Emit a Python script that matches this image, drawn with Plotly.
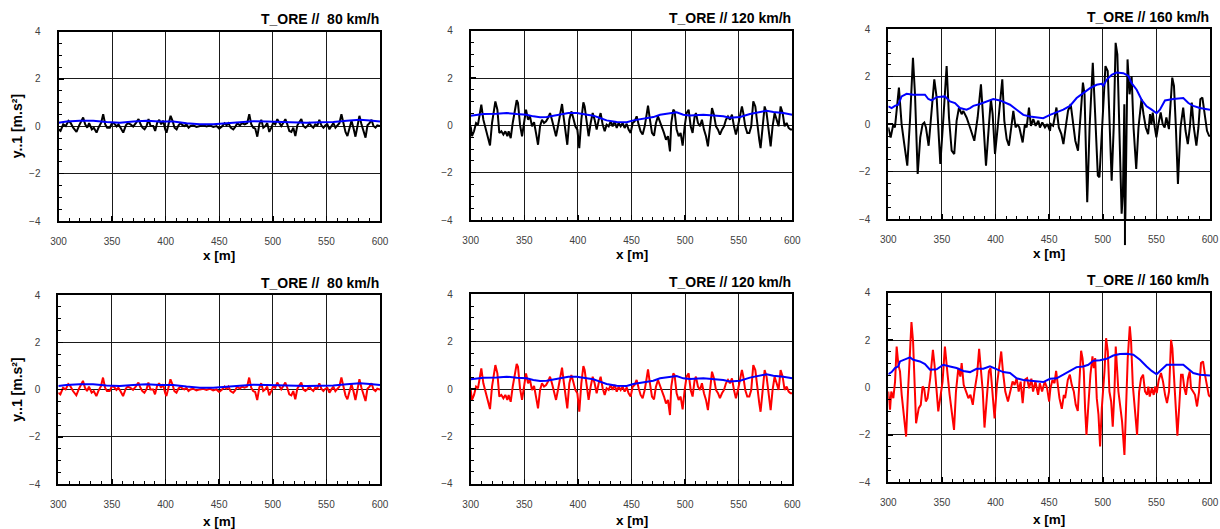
import plotly.graph_objects as go

# ---------------- data ----------------
x80 = [300.0, 301.9, 304.4, 306.8, 309.3, 311.2, 313.7, 316.8, 319.3, 323.0,
       324.9, 326.8, 328.6, 331.1, 333.0, 335.5, 337.3, 339.8, 341.7, 343.6,
       345.4, 347.9, 349.8, 351.7, 354.2, 356.0, 357.9, 360.4, 362.9, 364.7,
       367.2, 369.7, 372.2, 374.7, 376.6, 378.4, 380.3, 382.2, 384.0, 385.9,
       388.4, 390.2, 392.1, 394.0, 395.8, 397.7, 399.6, 400.8, 402.7, 404.6,
       406.4, 408.3, 410.2, 412.0, 413.9, 415.8, 417.6, 419.5, 421.4, 423.2,
       425.7, 428.8, 432.0, 435.1, 438.2, 441.3, 444.4, 447.5, 450.0, 452.5,
       455.0, 456.8, 458.7, 460.6, 463.1, 464.9, 466.8, 469.3, 471.2, 473.7,
       476.1, 478.0, 479.9, 481.7, 483.6, 485.5, 487.4, 489.2, 491.1, 493.0,
       494.8, 496.7, 498.6, 500.4, 502.3, 504.2, 506.1, 507.9, 509.8, 511.7,
       513.5, 515.4, 517.3, 519.1, 521.0, 522.9, 524.8, 526.6, 528.5, 530.4,
       532.2, 534.1, 536.0, 537.8, 539.6, 541.6, 543.4, 545.3, 547.2, 549.1,
       550.9, 552.8, 554.7, 556.5, 558.4, 560.3, 562.1, 564.0, 565.9, 567.8,
       569.6, 571.5, 573.4, 575.2, 577.1, 579.0, 580.8, 582.7, 584.6, 586.5,
       588.3, 590.2, 592.1, 593.9, 595.8, 597.5, 600.0]
y80 = [-0.13, -0.20, 0.08, 0.01, 0.23, 0.15, -0.06, -0.24, 0.04, 0.37,
       0.08, -0.06, 0.13, -0.13, -0.06, -0.27, -0.06, 0.15, 0.51, 0.08,
       -0.06, -0.06, 0.13, 0.13, -0.01, 0.08, -0.06, -0.27, 0.04, 0.13,
       0.08, -0.01, 0.13, 0.30, 0.08, -0.06, -0.13, 0.01, 0.30, 0.01,
       0.01, -0.20, 0.15, 0.27, 0.08, 0.23, -0.13, -0.27, 0.08, 0.44,
       0.23, -0.06, -0.13, 0.04, 0.13, 0.04, 0.01, 0.08, -0.06, 0.01,
       0.04, -0.03, 0.01, 0.04, -0.01, 0.04, -0.03, 0.01, -0.10, -0.01,
       0.13, 0.04, 0.13, -0.06, -0.13, -0.03, 0.13, 0.04, 0.13, 0.08,
       0.13, 0.51, 0.08, -0.06, -0.10, -0.44, 0.08, 0.27, -0.06, 0.01,
       0.13, -0.24, -0.06, 0.15, 0.08, 0.30, 0.15, 0.01, 0.15, 0.30,
       0.08, -0.20, -0.24, -0.06, -0.41, 0.04, 0.18, 0.30, 0.01, -0.06,
       0.01, 0.13, 0.01, -0.06, 0.08, 0.04, 0.27, 0.04, -0.06, 0.04,
       0.08, -0.13, 0.01, 0.13, -0.06, 0.04, 0.13, 0.51, 0.08, -0.24,
       -0.41, -0.06, 0.23, -0.06, -0.44, 0.01, 0.44, 0.08, -0.20, -0.48,
       0.04, 0.13, 0.27, 0.01, -0.06, 0.04, 0.01]
env80_x = [300, 307.5, 319.9, 332.4, 344.8, 357.3, 369.7, 382.2, 394.6, 407.1,
           419.5, 431.9, 444.4, 456.8, 469.3, 481.7, 494.2, 506.6, 519.1, 531.5,
           544.0, 556.4, 568.9, 581.3, 590.6, 600]
env80_y = [0.15, 0.20, 0.23, 0.23, 0.18, 0.15, 0.20, 0.23, 0.20, 0.20,
           0.13, 0.08, 0.08, 0.13, 0.18, 0.21, 0.20, 0.18, 0.18, 0.15,
           0.17, 0.18, 0.23, 0.27, 0.24, 0.20]

x120 = [300.0, 301.2, 303.1, 305.0, 306.8, 308.7, 309.9, 311.8, 313.7, 315.5,
        318.0, 319.9, 321.8, 323.0, 324.9, 326.7, 328.6, 330.5, 332.3, 334.2,
        335.4, 337.3, 339.2, 341.0, 342.9, 344.1, 346.0, 347.9, 349.7, 351.6,
        353.5, 355.3, 357.2, 359.1, 360.9, 362.8, 364.7, 366.5, 368.4, 370.3,
        372.1, 374.0, 375.8, 377.7, 379.6, 381.4, 383.3, 385.2, 387.0, 388.9,
        390.1, 392.0, 393.9, 395.7, 397.6, 399.5, 401.3, 403.2, 405.1, 406.3,
        408.2, 410.0, 411.9, 413.8, 415.6, 417.5, 419.4, 421.2, 423.1, 425.0,
        426.8, 428.7, 430.6, 432.4, 434.3, 436.2, 438.0, 439.9, 441.7, 443.6,
        445.5, 447.3, 449.2, 451.1, 452.9, 454.8, 456.7, 458.5, 460.4, 462.3,
        464.1, 465.4, 467.2, 469.1, 471.0, 472.8, 474.7, 476.6, 478.4, 480.3,
        482.2, 484.0, 485.9, 487.1, 489.0, 490.2, 492.1, 494.0, 495.8, 497.7,
        499.6, 501.4, 503.3, 505.2, 507.0, 508.9, 510.1, 512.0, 513.9, 515.7,
        517.6, 519.5, 521.3, 523.2, 525.1, 526.9, 528.8, 530.7, 532.5, 534.4,
        536.3, 538.1, 540.0, 541.8, 543.7, 545.6, 547.4, 549.3, 551.2, 553.0,
        554.3, 556.1, 558.0, 559.9, 561.7, 563.6, 565.5, 567.3, 569.2, 570.4,
        572.3, 574.2, 576.0, 577.9, 579.8, 581.6, 583.5, 585.4, 587.2, 589.1,
        591.0, 592.8, 594.7, 596.6, 598.4, 600.0]
y120 = [-0.04, -0.46, -0.25, 0.10, 0.03, 0.45, 0.87, 0.24, -0.11, -0.46,
        -0.85, 0.10, 0.66, 1.01, 0.66, -0.32, -0.25, -0.39, -0.25, -0.46,
        -0.25, -0.54, 0.10, 0.52, 1.06, 0.94, 0.03, -0.46, 0.10, 0.66,
        0.24, 0.38, -0.04, 0.13, -0.32, -0.82, -0.04, 0.24, 0.10, 0.17,
        0.31, 0.52, 0.24, -0.18, -0.46, -0.04, 0.45, 0.90, 0.24, -0.32,
        -0.82, 0.24, 0.59, 0.31, -0.04, -0.18, -0.96, 0.24, 0.97, 0.80,
        0.10, -0.46, 0.10, 0.52, 0.24, -0.18, 0.24, 0.52, 0.03, -0.25,
        0.03, -0.04, 0.17, -0.04, 0.17, -0.11, 0.10, -0.04, 0.10, -0.11,
        0.07, -0.18, -0.32, 0.10, 0.17, 0.38, 0.03, -0.25, -0.39, -0.04,
        0.45, 0.83, 0.24, -0.32, -0.44, 0.10, 0.38, 0.17, -0.04, -0.32,
        -0.61, -0.46, -1.10, 0.10, 0.66, 0.59, -0.18, -0.46, -0.32, -0.86,
        -0.04, 0.52, 0.66, -0.04, -0.32, 0.38, 0.52, 0.10, -0.04, 0.24,
        -0.18, -0.46, -0.89, 0.10, 0.73, 0.45, -0.04, -0.18, -0.39, -0.18,
        -0.04, 0.24, 0.38, 0.24, 0.45, -0.04, -0.39, -0.04, 0.38, 0.80,
        0.52, -0.04, -0.32, -0.32, -0.04, 1.01, 0.80, -0.04, -0.61, -0.96,
        -0.04, 0.80, 0.52, -0.18, -0.89, -0.04, 0.52, 0.24, -0.04, 0.80,
        0.52, -0.04, 0.10, -0.11, -0.18, -0.18]
env120_x = [300, 307.1, 311.8, 324.2, 333.6, 342.9, 352.2, 358.4, 364.7, 370.9,
            377.1, 383.3, 391.1, 398.9, 408.2, 414.4, 420.6, 426.8, 436.2, 445.5,
            451.7, 461.0, 470.3, 476.6, 485.9, 492.1, 498.3, 504.5, 517.0, 526.3,
            535.6, 541.8, 551.2, 560.5, 569.8, 576.0, 582.3, 591.6, 600]
env120_y = [0.41, 0.45, 0.48, 0.49, 0.52, 0.48, 0.45, 0.38, 0.34, 0.35,
            0.41, 0.45, 0.52, 0.52, 0.45, 0.41, 0.31, 0.21, 0.14, 0.13,
            0.21, 0.27, 0.35, 0.45, 0.52, 0.55, 0.45, 0.42, 0.45, 0.42,
            0.38, 0.32, 0.35, 0.48, 0.55, 0.62, 0.56, 0.52, 0.45]

x160_top = [300.0, 302.2, 304.7, 306.2, 309.9, 312.4, 314.9, 317.7, 320.2, 323.0,
            324.9, 327.4, 329.8, 332.0, 333.6, 335.1, 337.6, 340.4, 342.9, 345.1,
            348.5, 351.0, 354.4, 356.6, 359.1, 361.5, 363.7, 365.9, 368.4, 369.9,
            373.0, 376.2, 378.3, 380.2, 383.3, 386.4, 388.0, 391.1, 393.9, 395.7,
            397.3, 399.5, 402.0, 406.3, 408.2, 410.4, 412.5, 415.0, 416.6, 418.7,
            420.3, 422.2, 425.3, 427.4, 429.0, 431.2, 433.0, 435.2, 437.4, 439.9,
            441.4, 443.6, 446.1, 448.3, 450.8,
            451.5, 453.7, 456.8, 459.0, 461.4, 463.3, 465.4, 467.6, 470.1, 472.2,
            474.4, 476.9, 479.3, 481.5, 483.0, 485.5, 487.7, 490.7, 492.9, 495.4,
            496.9, 499.1, 500.9, 502.5, 504.6, 506.5, 508.3, 510.2, 512.0, 513.6,
            515.7, 517.6, 518.8, 520.1, 520.7, 523.1, 525.0, 526.9, 528.7, 531.2,
            533.3, 536.1, 538.0, 540.1, 542.3, 544.1, 545.4, 546.6, 548.5, 550.0,
            551.9, 554.0, 555.9, 557.7, 559.3, 561.7, 564.8, 566.4, 568.2, 570.1,
            572.5, 575.0, 577.2, 579.3, 581.2, 583.0, 584.9, 587.3, 589.2, 591.0,
            592.9, 594.8, 597.2, 599.1, 600.0]
y160_top = [-0.14, -0.56, 0.0, -0.14, 1.54, 0.0, -0.84, -1.75, 0.14, 2.80,
            1.26, -2.10, -0.56, 0.0, 0.07, -0.14, -0.91, 0.70, 1.89, 1.12,
            -1.68, 0.0, 2.45, 0.28, -1.12, -1.26, 0.14, 0.70, 0.42, 0.56,
            0.28, -0.14, -0.42, -0.70, 0.28, 1.68, 0.56, -1.75, 0.0, 1.05,
            0.42, -1.26, -0.14, 1.89, 0.14, -0.63, -0.91, 0.0, 0.56, -0.14,
            0.0, -0.14, -0.77, 0.0, -0.14, 0.70, -0.07, 0.21, -0.07, 0.14,
            -0.14, 0.07, -0.14, 0.0, -0.28,
            0.0, -0.07, 0.70, -0.14, -0.42, -0.84, -0.14, 0.56, 0.84, 0.0,
            -0.70, -1.12, 0.56, 1.75, 1.26, -3.29, -0.14, 2.59, 0.42, -2.17,
            -2.24, -0.14, 1.54, 2.45, 2.24, -0.14, -2.38, -0.14, 3.43, 2.94,
            -0.14, -3.78, -2.90, 0.84, -5.10, 2.73, 1.26, 2.03, -0.14, -1.89,
            -0.14, 1.05, 0.42, -0.14, -0.42, 0.42, 0.0, 0.49, -0.14, -0.56,
            0.0, 0.49, 0.0, -0.14, 0.28, -0.21, 1.96, 1.61, -0.14, -2.52,
            -0.14, 0.70, -0.28, -0.84, -0.14, 0.91, -0.14, -0.91, -0.14, 1.05,
            1.12, 0.42, -0.28, -0.49, -0.50]
env160_top_x = [300, 303.1, 306.2, 309.3, 312.4, 317.1, 323.3, 334.2, 337.3, 340.4,
                345.1, 352.8, 357.5, 362.2, 366.8, 373.0, 376.2, 379.3, 385.5, 391.7,
                397.9, 404.1, 413.5, 419.7, 425.9, 432.1, 438.3, 444.5, 450.8, 457.0,
                463.2, 469.4, 475.6, 481.8, 488.1, 494.3, 498.9, 500.5, 503.6, 508.3,
                512.9, 519.1, 523.8, 526.9, 531.6, 536.2, 540.9, 545.6, 550.2, 553.3,
                558.0, 565.8, 575.1, 579.8, 584.4, 590.6, 600]
env160_top_y = [0.75, 0.68, 0.77, 0.82, 1.17, 1.28, 1.24, 1.24, 1.06, 1.00,
                1.14, 1.17, 0.96, 0.89, 0.68, 0.61, 0.68, 0.77, 0.85, 0.96,
                1.06, 1.00, 0.82, 0.61, 0.39, 0.32, 0.30, 0.25, 0.39, 0.49,
                0.61, 0.77, 1.10, 1.31, 1.52, 1.66, 1.70, 1.62, 1.87, 2.08,
                2.18, 2.15, 2.04, 1.73, 1.45, 1.03, 0.75, 0.61, 0.46, 0.61,
                1.00, 1.06, 1.10, 0.89, 0.77, 0.68, 0.61]

x160_bot = [300.0, 301.6, 302.8, 304.7, 306.3, 307.8, 309.4, 310.9, 312.5, 314.1,
            316.6, 318.4, 319.7, 321.6, 323.1, 324.7, 325.9, 328.4, 330.3, 331.9,
            333.4, 335.0, 336.6, 339.1, 341.6, 343.1, 344.7, 346.6, 348.4, 350.6,
            352.8, 354.1, 355.3, 357.2, 359.1, 361.3, 363.1, 365.3, 367.2, 368.4,
            370.3, 372.5, 374.7, 376.6, 378.8, 380.3, 382.8, 384.7, 386.6, 388.1,
            389.7, 391.9, 393.8, 395.3, 396.9, 399.1, 401.3, 403.8, 405.3, 406.9,
            409.1, 411.6, 414.1, 415.9, 417.8, 419.7, 421.6, 423.4, 425.3, 427.2,
            429.4, 431.3, 433.4, 435.0, 437.2, 439.7, 441.3, 443.4, 445.9, 448.1,
            450.0,
            451.2, 453.1, 455.0, 456.5, 458.1, 459.6, 461.8, 463.7, 464.9, 467.4,
            469.3, 471.1, 473.0, 474.8, 476.7, 478.6, 479.8, 481.1, 482.3, 483.5,
            484.8, 486.6, 488.5, 490.4, 491.6, 492.9, 494.4, 496.0, 497.5, 499.1,
            500.3, 501.6, 503.1, 504.7, 506.2, 507.8, 509.3, 510.9, 512.1, 513.4,
            514.6, 516.5, 518.0, 520.2, 521.7, 523.3, 525.2, 526.4, 528.0, 530.1,
            532.0, 533.9, 535.7, 537.6, 539.4, 541.3, 542.5, 543.8, 545.7, 547.5,
            548.8, 550.3, 552.2, 554.3, 556.2, 558.1, 559.9, 561.8, 563.7, 564.9,
            566.5, 568.0, 569.6, 571.4, 573.0, 574.5, 576.1, 577.6, 579.5, 581.1,
            582.3, 584.2, 586.0, 587.9, 589.8, 591.6, 593.5, 595.3, 597.2, 598.8,
            600.0]
y160_bot = [-0.17, -0.94, -0.17, -0.45, 0.25, 1.73, 0.96, 0.68, -0.31, -0.94,
            -2.07, -0.17, 1.10, 2.76, 1.94, -0.59, -1.51, -0.87, -0.73, 0.04,
            -0.03, -0.59, -0.45, 0.39, 1.59, 0.96, -0.03, -1.01, -0.45, 0.25,
            1.73, 1.24, 0.54, -0.31, -1.01, -1.79, -0.17, 0.82, 0.46, 1.03,
            0.11, -0.17, -0.45, -0.31, -0.73, -0.17, 0.54, 1.63, 0.68, -0.17,
            -1.69, -0.17, 0.68, 0.82, -0.17, -1.30, 0.11, 1.17, 1.52, 0.68,
            -0.17, -0.59, -0.17, 0.25, 0.11, 0.39, -0.17, 0.25, -0.66, 0.32,
            0.39, -0.03, 0.37, -0.17, 0.25, -0.31, 0.18, -0.17, 0.25, -0.03,
            -0.59,
            -0.03, 0.32, 0.18, 0.70, 0.11, -0.45, -0.90, -0.31, -0.45, 0.32,
            0.54, 0.11, -0.17, -0.73, -0.99, 0.68, 1.55, 1.24, 0.68, -0.87,
            -2.00, -0.73, 0.54, 1.31, 0.82, 1.24, -0.45, -1.15, -2.49, -0.87,
            -0.17, 0.68, 2.08, 1.52, -0.17, -0.59, -1.65, -0.17, 1.73, 0.82,
            -0.17, -0.87, -1.44, -2.85, -0.87, 1.24, 2.58, 1.94, 0.11, -1.15,
            -2.00, -0.17, 0.39, 0.54, -0.17, -0.31, 0.04, -0.38, -0.03, -0.31,
            0.04, -0.24, 0.32, 0.61, 0.25, -0.31, -0.66, -0.17, 2.01, 1.66,
            0.39, -0.73, -2.03, -0.73, 0.54, 0.54, -0.03, -0.31, 0.39, 0.68,
            -0.03, -0.17, -0.31, -0.80, -0.17, 1.03, 1.10, 0.54, 0.11, -0.31,
            -0.40]
env160_bot_x = [300, 303.1, 306.2, 309.3, 310.9, 315.5, 320.2, 323.3, 329.5, 334.2,
                338.9, 345.1, 351.3, 357.5, 363.7, 369.9, 376.2, 382.4, 388.6, 394.8,
                401.0, 407.2, 413.5, 419.7, 425.9, 432.1, 438.3, 444.5, 450.8, 457.0,
                463.2, 469.4, 475.6, 481.8, 486.5, 491.2, 497.4, 503.6, 509.8, 516.0,
                522.3, 528.5, 534.7, 540.9, 545.6, 550.2, 554.9, 559.6, 575.1, 579.8,
                584.4, 590.6, 600]
env160_bot_y = [0.56, 0.65, 0.82, 0.89, 1.10, 1.20, 1.27, 1.17, 1.10, 0.99,
                0.75, 0.77, 0.96, 0.89, 0.82, 0.70, 0.65, 0.79, 0.79, 0.89,
                0.77, 0.65, 0.61, 0.39, 0.32, 0.28, 0.25, 0.23, 0.37, 0.39,
                0.54, 0.70, 0.86, 0.89, 0.96, 1.13, 1.15, 1.21, 1.35, 1.41,
                1.42, 1.38, 1.17, 0.89, 0.70, 0.56, 0.75, 0.96, 0.96, 0.79,
                0.61, 0.54, 0.51]

titles = ["T_ORE //  80 km/h", "T_ORE // 120 km/h", "T_ORE // 160 km/h"]
x_ticks = [300, 350, 400, 450, 500, 550, 600]
y_ticks = [-4, -2, 0, 2, 4]
x_title = "x [m]"
y_title = "y..1 [m.s²]"

# ---------------- layout ----------------
W, H = 1220, 529
FONT = "Arial, Liberation Sans, sans-serif"

panels = [
    dict(x=x80, y=y80, ex=env80_x, ey=env80_y, c="black", t=titles[0], box=(58.5, 31.5, 380.0, 221.0)),
    dict(x=x120, y=y120, ex=env120_x, ey=env120_y, c="black", t=titles[1], box=(470.7, 30.7, 792.3, 220.0)),
    dict(x=x160_top, y=y160_top, ex=env160_top_x, ey=env160_top_y, c="black", t=titles[2], box=(888.3, 29.3, 1210.0, 219.0)),
    dict(x=x80, y=y80, ex=env80_x, ey=env80_y, c="#ff0000", t=titles[0], box=(58.3, 295.0, 380.0, 484.3)),
    dict(x=x120, y=y120, ex=env120_x, ey=env120_y, c="#ff0000", t=titles[1], box=(470.7, 294.3, 792.3, 483.7)),
    dict(x=x160_bot, y=y160_bot, ex=env160_bot_x, ey=env160_bot_y, c="#ff0000", t=titles[2], box=(888.3, 292.7, 1210.0, 482.3)),
]

fig = go.Figure()
annotations = []
shapes = []
lay = {}
for i, p in enumerate(panels, start=1):
    sfx = "" if i == 1 else str(i)
    xa, ya = "x" + sfx, "y" + sfx
    fig.add_trace(go.Scatter(x=p["x"], y=p["y"], mode="lines", xaxis=xa, yaxis=ya,
                             line=dict(color=p["c"], width=2), showlegend=False, hoverinfo="skip"))
    fig.add_trace(go.Scatter(x=p["ex"], y=p["ey"], mode="lines", xaxis=xa, yaxis=ya,
                             line=dict(color="#0000ff", width=2), showlegend=False, hoverinfo="skip"))
    l, t, r, b = p["box"]
    common = dict(ticks="inside", tickcolor="black", tickwidth=1.5, ticklen=5,
                  showline=True, linecolor="black", linewidth=2, mirror=True,
                  showgrid=True, gridcolor="#1a1a1a", gridwidth=1, zeroline=False,
                  automargin=False,
                  tickfont=dict(family=FONT, size=10, color="#404040"))
    lay["xaxis" + sfx] = dict(common, domain=[l / W, r / W], range=[300, 600], anchor=ya,
                              tickvals=x_ticks, ticklabelstandoff=10,
                              minor=dict(dtick=10, tick0=300, ticks="inside", ticklen=3,
                                         tickcolor="black", tickwidth=1, showgrid=False))
    lay["yaxis" + sfx] = dict(common, domain=[1 - b / H, 1 - t / H], range=[-4, 4], anchor=xa,
                              tickvals=y_ticks, ticklabelstandoff=14,
                              minor=dict(dtick=0.5, tick0=0, ticks="inside", ticklen=3,
                                         tickcolor="black", tickwidth=1, showgrid=False))
    # panel title
    annotations.append(dict(text="<b>%s</b>" % p["t"], xref="paper", yref="paper",
                            x=(r + 1) / W, y=1 - (t - 12.5) / H, xanchor="right", yanchor="middle",
                            showarrow=False, font=dict(family=FONT, size=14, color="black")))
    # x-axis title
    annotations.append(dict(text="<b>%s</b>" % x_title, xref="paper", yref="paper",
                            x=(l + r) / 2 / W, y=1 - (b + (37 if i > 3 else 35)) / H,
                            xanchor="center", yanchor="middle", showarrow=False,
                            font=dict(family=FONT, size=13.5, color="black")))
    if i in (1, 4):
        annotations.append(dict(text="<b>%s</b>" % y_title, xref="paper", yref="paper",
                                x=17 / W, y=1 - (t + b) / 2 / H, textangle=-90,
                                xanchor="center", yanchor="middle", showarrow=False,
                                font=dict(family=FONT, size=14, color="black")))
    # portion of the spike that the original draws beyond the axis frame
    ymin = min(p["y"])
    if ymin < -4:
        xs = p["x"][p["y"].index(ymin)]
        d0, d1 = 1 - b / H, 1 - t / H
        def to_paper(v):
            return d0 + (v + 4) / 8 * (d1 - d0)
        shapes.append(dict(type="line", xref=xa, yref="paper", x0=xs, x1=xs,
                           y0=to_paper(-4), y1=to_paper(ymin),
                           line=dict(color="black", width=2)))

fig.update_layout(template="none", width=W, height=H, margin=dict(l=0, r=0, t=0, b=0, pad=0),
                  paper_bgcolor="white", plot_bgcolor="white", autosize=False,
                  annotations=annotations, shapes=shapes, **lay)
fig.write_html("out.html", config={"displayModeBar": False, "staticPlot": True},
               post_script="document.body.style.margin='0';document.body.style.padding='0';"
                           "document.documentElement.style.overflow='hidden';")
